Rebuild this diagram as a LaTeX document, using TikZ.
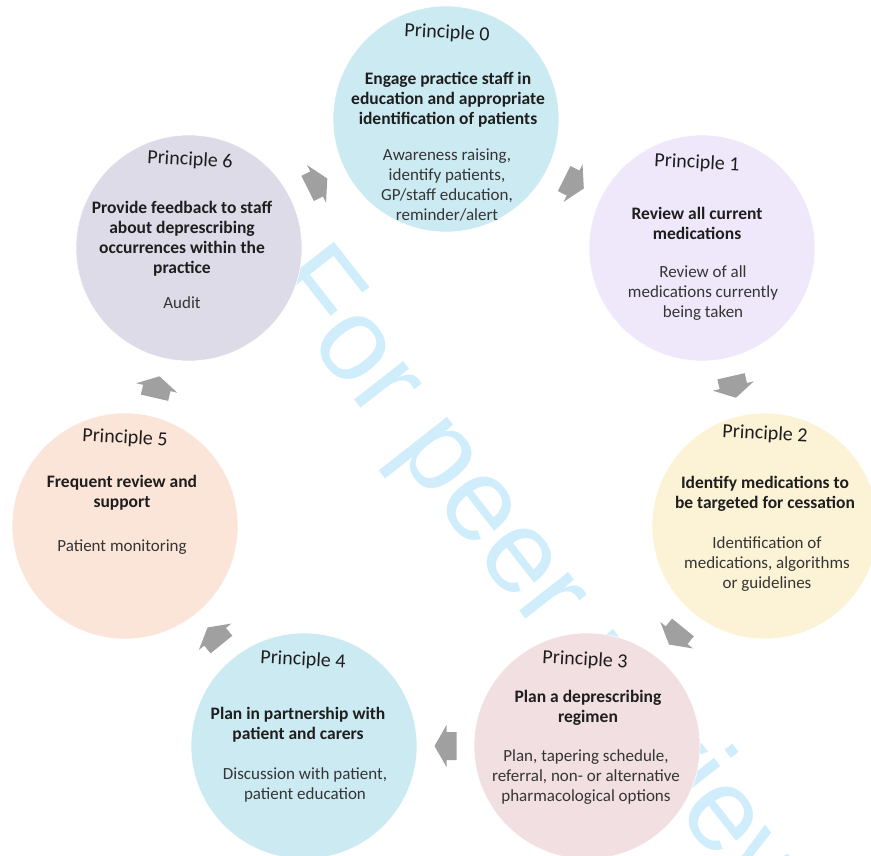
\documentclass[tikz,border=0pt]{standalone}
\usepackage{fontspec}
\setmainfont{Carlito}
\newfontfamily\wmfont{Liberation Sans}
\usetikzlibrary{calc}
\definecolor{cBlue}{RGB}{204,234,242}
\definecolor{cLav}{RGB}{238,232,250}
\definecolor{cCream}{RGB}{252,243,214}
\definecolor{cPink}{RGB}{242,223,225}
\definecolor{cPeach}{RGB}{251,229,216}
\definecolor{cGrey}{RGB}{220,219,231}
\definecolor{arrowgray}{RGB}{160,160,160}
\definecolor{wmcol}{RGB}{208,237,251}
\definecolor{txt}{RGB}{30,30,30}
\begin{document}
\begin{tikzpicture}[x=1pt,y=-1pt,
  disc/.style={circle, minimum size=226pt, inner sep=0pt, draw=white, line width=0.6pt},
  ptitle/.style={font=\fontsize{20}{22}\selectfont, text=txt, rotate=-3, inner sep=0pt},
  pbold/.style={font=\bfseries\fontsize{17.5}{20}\selectfont, text=txt, align=center, inner sep=0pt},
  ptext/.style={font=\fontsize{17}{20}\selectfont, text=txt!90, align=center, inner sep=0pt},
  cyc/.style={fill=arrowgray, draw=none}
]
\useasboundingbox (0,0) rectangle (871,856);
\clip (0,0) rectangle (871,856);
\fill[white] (0,0) rectangle (871,856);

% watermark
\node[anchor=base west, rotate=-52, inner sep=0pt, text=wmcol,
      font=\wmfont\fontsize{118}{118}\selectfont] (wm) at (264.4,284.4) {For peer review};

% circles
\node[disc, fill=cBlue]  (c0) at (446,119) {};
\node[disc, fill=cLav]   (c1) at (702,248) {};
\node[disc, fill=cCream] (c2) at (765,526) {};
\node[disc, fill=cPink]  (c3) at (587,746) {};
\node[disc, fill=cBlue]  (c4) at (304,746) {};
\node[disc, fill=cPeach] (c5) at (125,526) {};
\node[disc, fill=cGrey]  (c6) at (189,248) {};

% cycle arrows (block arrows midway between consecutive circles)
\foreach \a/\b/\ang in {c0/c1/-26.7,c1/c2/-77.2,c2/c3/-129.0,c3/c4/180,c4/c5/129.1,c5/c6/77.0,c6/c0/26.65}{
  \coordinate (m-\a) at ($(\a)!0.5!(\b)$);
  \fill[cyc, shift={(m-\a)}, rotate=\ang]
    (-11,-14) -- (-1,-14) -- (-1,-21) -- (11,0) -- (-1,21) -- (-1,14) -- (-11,14) -- cycle;
}

% Principle 0
\node[ptitle] (t0) at (447,33) {Principle 0};
\node[pbold]  (b0) at (448,100) {Engage practice staff in\\education and appropriate\\identification of patients};
\node[ptext]  (r0) at (447,185) {Awareness raising,\\identify patients,\\GP/staff education,\\reminder/alert};

% Principle 1
\node[ptitle] (t1) at (697,163) {Principle 1};
\node[pbold]  (b1) at (697,223) {Review all current\\medications};
\node[ptext]  (r1) at (703,293) {Review of all\\medications currently\\being taken};

% Principle 2
\node[ptitle] (t2) at (765,434) {Principle 2};
\node[pbold]  (b2) at (765,494) {Identify medications to\\be targeted for cessation};
\node[ptext]  (r2) at (767,564) {Identification of\\medications, algorithms\\or guidelines};

% Principle 3
\node[ptitle] (t3) at (585,660) {Principle 3};
\node[pbold]  (b3) at (588,708) {Plan a deprescribing\\regimen};
\node[ptext]  (r3) at (586,777) {Plan, tapering schedule,\\referral, non- or alternative\\pharmacological options};

% Principle 4
\node[ptitle] (t4) at (303,660) {Principle 4};
\node[pbold]  (b4) at (298,725) {Plan in partnership with\\patient and carers};
\node[ptext]  (r4) at (305,785) {Discussion with patient,\\patient education};

% Principle 5
\node[ptitle] (t5) at (125,438) {Principle 5};
\node[pbold]  (b5) at (122,493) {Frequent review and\\support};
\node[ptext]  (r5) at (122,547) {Patient monitoring};

% Principle 6
\node[ptitle] (t6) at (190,160) {Principle 6};
\node[pbold]  (b6) at (182,239) {Provide feedback to staff\\about deprescribing\\occurrences within the\\practice};
\node[ptext]  (r6) at (182,303) {Audit};
\end{tikzpicture}
\end{document}
